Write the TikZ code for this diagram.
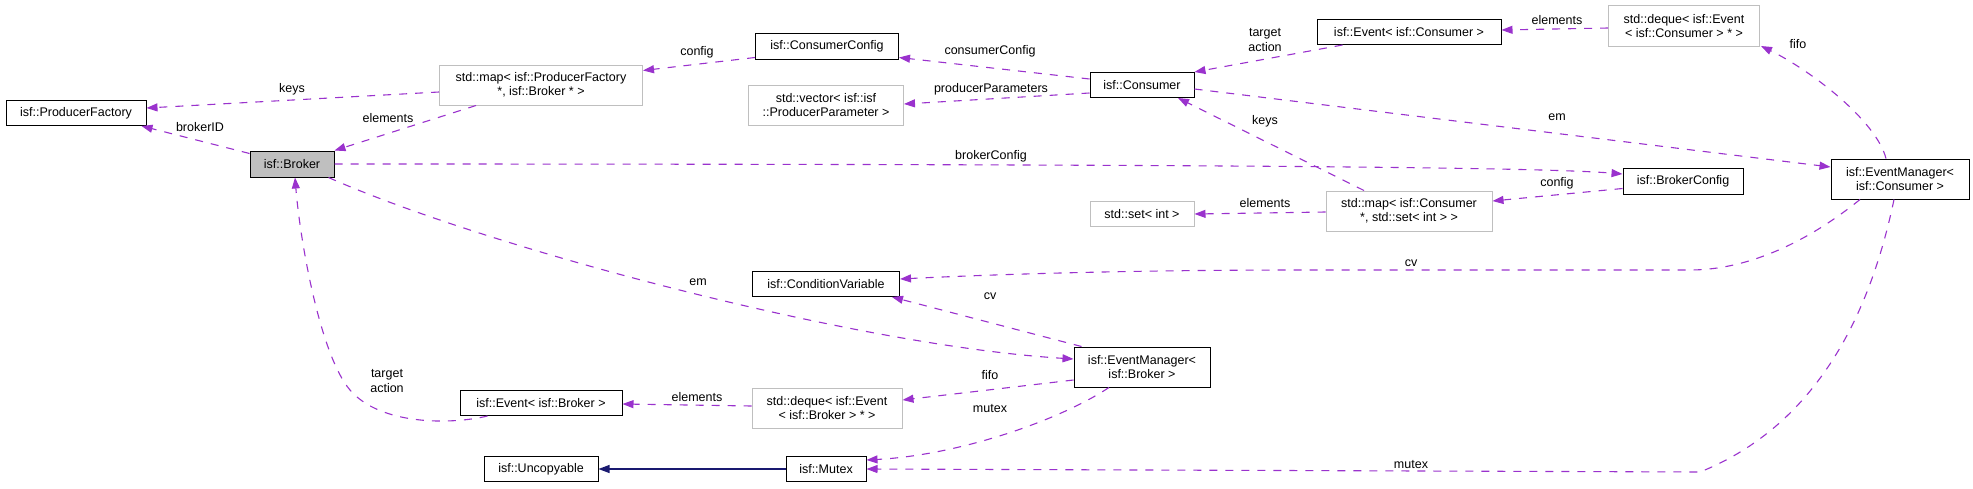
\documentclass[tikz,border=0pt]{standalone}
\usepackage{fontspec}
\setmainfont{Liberation Sans}
\usetikzlibrary{arrows.meta,calc}
\definecolor{edgepurple}{HTML}{9A32CD}
\definecolor{navyblue}{HTML}{191970}
\definecolor{grayb}{HTML}{BFBFBF}
\begin{document}
\begin{tikzpicture}[x=1pt,y=-1pt,
  font=\fontsize{12.5}{14.3}\selectfont,
  box/.style={draw=black,line width=1pt,fill=white,inner sep=0pt,align=center,minimum height=25pt},
  extbox/.style={box,draw=grayb},
  rel/.style={draw=edgepurple,line width=1.1pt,dash pattern=on 8pt off 8pt,-{Triangle[length=11pt,width=8pt]}},
  inh/.style={draw=navyblue,line width=1.1pt,-{Triangle[length=11pt,width=8pt]}},
  lbl/.style={inner sep=0pt,align=center,font=\fontsize{12.5}{14.3}\selectfont}]
\useasboundingbox (0,0) rectangle (1973,488);
% nodes
\node[box,minimum width=140pt] (pf) at (76,113) {isf::ProducerFactory};
\node[extbox,minimum width=203pt,minimum height=40pt] (mappf) at (541,85) {std::map< isf::ProducerFactory\\*, isf::Broker * >};
\node[box,fill=grayb,minimum width=84pt,minimum height=26pt] (broker) at (292,164) {isf::Broker};
\node[box,minimum width=143pt,minimum height=26pt] (cc) at (827,46) {isf::ConsumerConfig};
\node[extbox,minimum width=155pt,minimum height=40pt] (vec) at (826,105) {std::vector< isf::isf\\::ProducerParameter >};
\node[box,minimum width=104pt] (consumer) at (1142,85) {isf::Consumer};
\node[extbox,minimum width=104pt] (setint) at (1142,214) {std::set< int >};
\node[box,minimum width=184pt] (evc) at (1409,32) {isf::Event< isf::Consumer >};
\node[extbox,minimum width=151pt,minimum height=41pt] (dqc) at (1684,26) {std::deque< isf::Event\\< isf::Consumer > * >};
\node[box,minimum width=120pt,minimum height=26pt] (bc) at (1683,181) {isf::BrokerConfig};
\node[extbox,minimum width=166pt,minimum height=40pt] (mapc) at (1409,211) {std::map< isf::Consumer\\*, std::set< int > >};
\node[box,minimum width=138pt,minimum height=40pt] (emc) at (1900,179) {isf::EventManager<\\isf::Consumer >};
\node[box,minimum width=147pt] (cv) at (826,284) {isf::ConditionVariable};
\node[box,minimum width=136pt,minimum height=40pt] (emb) at (1142,367) {isf::EventManager<\\isf::Broker >};
\node[extbox,minimum width=150pt,minimum height=40pt] (dqb) at (827,408) {std::deque< isf::Event\\< isf::Broker > * >};
\node[box,minimum width=80pt] (mutex) at (826,469) {isf::Mutex};
\node[box,minimum width=162pt] (evb) at (541,403) {isf::Event< isf::Broker >};
\node[box,minimum width=114pt] (unc) at (541,469) {isf::Uncopyable};
% edges
\draw[rel] ($(mappf.west)+(0,7)$) -- ($(pf.east)+(0,-5)$);
\node[lbl] (l1) at (292,89) {keys};
\draw[rel] ($(mappf.south)+(-65,0)$) -- (broker.north east);
\node[lbl] (l2) at (388,118) {elements};
\draw[rel] ($(broker.north west)+(0,3)$) -- ($(pf.south east)+(-5,0)$);
\node[lbl] (l3) at (200,127) {brokerID};
\draw[rel] ($(cc.south west)+(0,-2)$) -- ($(mappf.north east)+(0,6)$);
\node[lbl] (l4) at (697,52) {config};
\draw[rel] ($(consumer.west)+(0,-6)$) -- ($(cc.south east)+(0,-2)$);
\node[lbl] (l5) at (990,51) {consumerConfig};
\draw[rel] ($(consumer.west)+(0,8)$) -- ($(vec.east)+(0,-1)$);
\node[lbl] (l6) at (991,89) {producerParameters};
\draw[rel] ($(evc.south west)+(26,0)$) -- (consumer.north east);
\node[lbl] (l7) at (1265,40) {target\\action};
\draw[rel] ($(dqc.west)+(0,2)$) -- ($(evc.east)+(0,-2)$);
\node[lbl] (l8) at (1557,20) {elements};
\draw[rel] ($(emc.north)+(-14,0)$) .. controls (1876,120) and (1810,70) .. ($(dqc.south east)+(1,-1)$);
\node[lbl] (l9) at (1798,44) {fifo};
\draw[rel] ($(consumer.east)+(0,4)$) -- ($(emc.west)+(0,-12)$);
\node[lbl] (l10) at (1557,117) {em};
\draw[rel] (broker.east) .. controls (1300,164) and (1550,168) .. ($(bc.west)+(0,-7)$);
\node[lbl] (l11) at (991,156) {brokerConfig};
\draw[rel] ($(bc.south west)+(0,-6)$) -- ($(mapc.east)+(0,-10)$);
\node[lbl] (l12) at (1557,183) {config};
\draw[rel] ($(mapc.north)+(-45,0)$) -- ($(consumer.south)+(36,0)$);
\node[lbl] (l13) at (1265,121) {keys};
\draw[rel] ($(mapc.west)+(0,1)$) -- (setint.east);
\node[lbl] (l14) at (1265,203) {elements};
\draw[rel] ($(emc.south)+(-40,0)$) .. controls (1810,240) and (1750,270) .. (1690,270) -- (1300,270) .. controls (1100,270) and (960,276) .. ($(cv.east)+(0,-5)$);
\node[lbl] (l15) at (1411,263) {cv};
\draw[rel] ($(emc.south)+(-6,0)$) .. controls (1875,290) and (1830,420) .. (1700,472) -- (mutex.east);
\node[lbl] (l16) at (1411,465) {mutex};
\draw[rel] ($(broker.south east)+(-6,0)$) .. controls (480,245) and (850,345) .. ($(emb.west)+(0,-8)$);
\node[lbl] (l17) at (698,282) {em};
\draw[rel] ($(emb.north west)+(8,0)$) -- ($(cv.south east)+(-8,0)$);
\node[lbl] (l18) at (990,296) {cv};
\draw[rel] ($(emb.west)+(0,13)$) -- ($(dqb.east)+(0,-8)$);
\node[lbl] (l19) at (990,375) {fifo};
\draw[rel] ($(emb.south)+(-33,0)$) .. controls (1060,420) and (960,455) .. ($(mutex.north east)+(0,4)$);
\node[lbl] (l20) at (990,409) {mutex};
\draw[rel] ($(dqb.west)+(0,-2)$) -- ($(evb.east)+(0,1)$);
\node[lbl] (l21) at (697,397) {elements};
\draw[rel] ($(evb.south west)+(28,0)$) .. controls (450,425) and (380,425) .. (350,390) .. controls (320,355) and (300,240) .. ($(broker.south)+(3,0)$);
\node[lbl] (l22) at (387,381) {target\\action};
\draw[inh] (mutex.west) -- (unc.east);
\end{tikzpicture}
\end{document}
